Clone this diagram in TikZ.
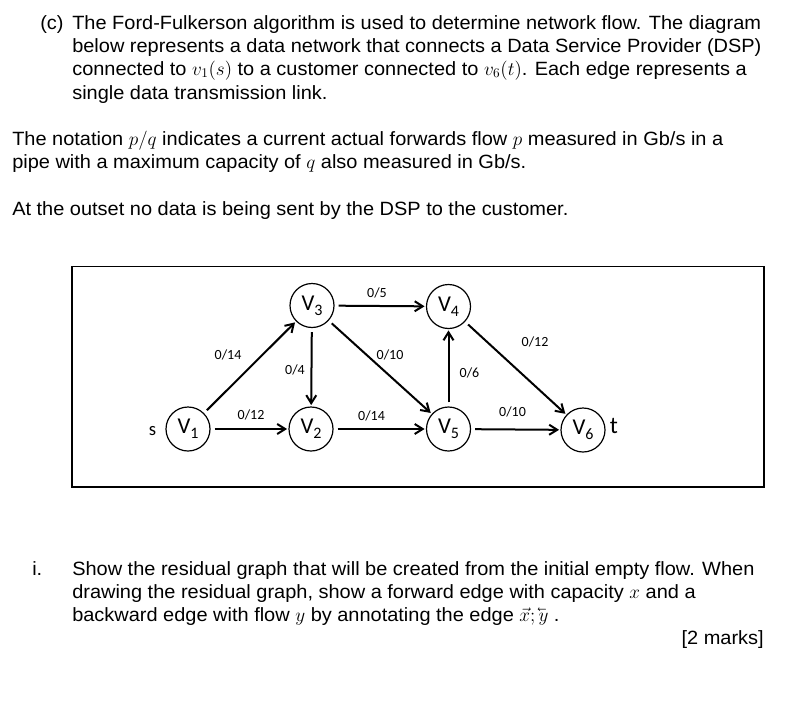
\documentclass[tikz,border=0pt]{standalone}
\usepackage{amsmath}
\usepackage{graphicx}
\usepackage{fontspec}
\setmainfont[FakeStretch=1.04]{Liberation Sans}
\newfontfamily\carlito{Carlito}
\usetikzlibrary{arrows.meta}
\newcommand{\vsub}[1]{V\raisebox{-0.45ex}{\fontsize{12}{12}\selectfont #1}}
\newcommand{\backvec}[1]{\reflectbox{$\vec{\reflectbox{$#1$}}$}}

\begin{document}
\begin{tikzpicture}[
    x=0.75pt, y=-0.75pt,
    txt/.style     = {font=\fontsize{14.4}{17}\selectfont, anchor=base west, inner sep=0pt},
    vnode/.style   = {draw, circle, line width=0.9pt, minimum size=33pt, inner sep=0pt,
                      font=\carlito\fontsize{17}{17}\selectfont},
    edge/.style    = {line width=1.5pt, -{Straight Barb[length=6pt,width=7.5pt]},
                      shorten <=3pt, shorten >=1pt},
    flowlbl/.style = {font=\carlito\fontsize{10.5}{10.5}\selectfont, inner sep=0pt},
    frame/.style   = {draw, line width=0.8pt}
  ]
  \useasboundingbox (0,0) rectangle (803,703);

  %% Question text
  \node[txt] (c0) at (40,29) {(c)};
  \node[txt] (c1) at (72,29) {The Ford-Fulkerson algorithm is used to determine network flow. The diagram};
  \node[txt] (c2) at (72,52) {below represents a data network that connects a Data Service Provider (DSP)};
  \node[txt] (c3) at (72,75) {connected to $v_1(s)$ to a customer connected to $v_6(t)$. Each edge represents a};
  \node[txt] (c4) at (72,99) {single data transmission link.};
  \node[txt] (p1) at (12,145) {The notation $p/q$ indicates a current actual forwards flow $p$ measured in Gb/s in a};
  \node[txt] (p2) at (12,168) {pipe with a maximum capacity of $q$ also measured in Gb/s.};
  \node[txt] (o1) at (12,215) {At the outset no data is being sent by the DSP to the customer.};

  %% Network frame
  \draw[frame] (72,266.5) rectangle (764,487);

  %% Vertices
  \node[vnode] (v1) at (188,429) {\vsub{1}};
  \node[vnode] (v2) at (311,429) {\vsub{2}};
  \node[vnode] (v3) at (312,305.5) {\vsub{3}};
  \node[vnode] (v4) at (448.5,306.5) {\vsub{4}};
  \node[vnode] (v5) at (448.5,429) {\vsub{5}};
  \node[vnode] (v6) at (583,430) {\vsub{6}};
  \node[font=\carlito\fontsize{14}{14}\selectfont, inner sep=0pt] (src) at (152.5,431) {s};
  \node[font=\carlito\fontsize{18}{18}\selectfont, inner sep=0pt] (snk) at (614,426) {t};

  %% Edges
  \draw[edge] (v1) -- (v3);
  \draw[edge] (v1) -- (v2);
  \draw[edge] (v3) -- (v2);
  \draw[edge] (v3) -- (v4);
  \draw[edge] (v3) -- (v5);
  \draw[edge] (v2) -- (v5);
  \draw[edge] (v5) -- (v4);
  \draw[edge] (v4) -- (v6);
  \draw[edge] (v5) -- (v6);

  %% Flow / capacity labels
  \node[flowlbl] (f13) at (228,355) {0/14};
  \node[flowlbl] (f12) at (251,414.5) {0/12};
  \node[flowlbl] (f32) at (295,370) {0/4};
  \node[flowlbl] (f34) at (377,293) {0/5};
  \node[flowlbl] (f35) at (390,355) {0/10};
  \node[flowlbl] (f25) at (371.5,416) {0/14};
  \node[flowlbl] (f54) at (469.5,373) {0/6};
  \node[flowlbl] (f46) at (535,342) {0/12};
  \node[flowlbl] (f56) at (512.5,412) {0/10};

  %% Part i
  \node[txt] (i0) at (32,575) {i.};
  \node[txt] (r1) at (72,575) {Show the residual graph that will be created from the initial empty flow. When};
  \node[txt] (r2) at (72,598) {drawing the residual graph, show a forward edge with capacity $x$ and a};
  \node[txt] (r3) at (72,621) {backward edge with flow $y$ by annotating the edge $\vec{x};\backvec{y}$ .};
  \node[txt, anchor=base east] (mk) at (764,644) {[2 marks]};
\end{tikzpicture}
\end{document}
